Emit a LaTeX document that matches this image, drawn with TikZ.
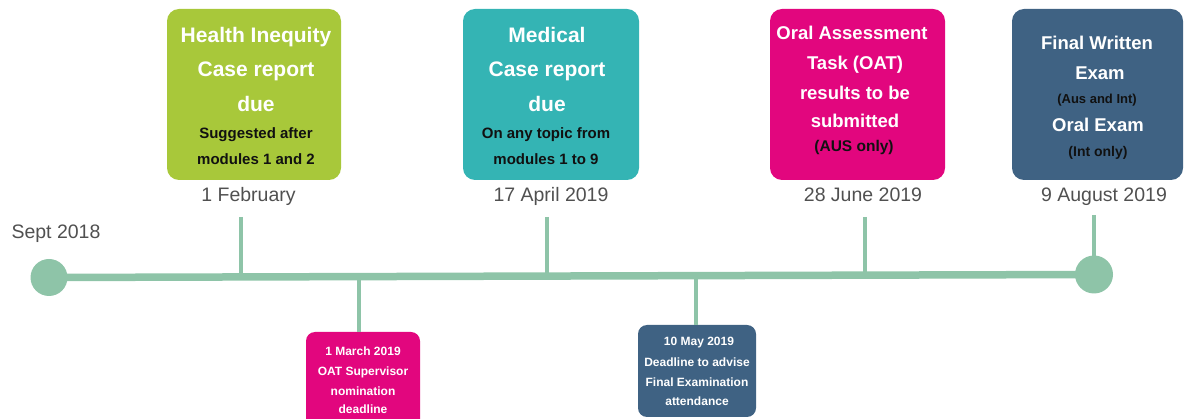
\documentclass[tikz,border=0pt]{standalone}
\usepackage{fontspec}
\setmainfont{Liberation Sans}
\usetikzlibrary{calc}
\definecolor{lineg}{HTML}{8EC4A8}
\definecolor{boxgreen}{HTML}{A8C83A}
\definecolor{boxteal}{HTML}{34B4B4}
\definecolor{boxmag}{HTML}{E2067E}
\definecolor{boxblue}{HTML}{3F6283}
\definecolor{dategray}{HTML}{505050}
\definecolor{inkblack}{HTML}{111111}
\tikzset{
  card/.style={rectangle, rounded corners=12pt, inner sep=0pt, draw=none},
  smallcard/.style={rectangle, rounded corners=9pt, inner sep=0pt, draw=none},
  wt/.style={anchor=base, inner sep=0pt, text=white, font=\bfseries\fontsize{#1}{#1}\selectfont},
  bk/.style={anchor=base, inner sep=0pt, text=inkblack, font=\bfseries\fontsize{#1}{#1}\selectfont},
  dt/.style={anchor=base, inner sep=0pt, text=dategray, font=\fontsize{19.5}{19.5}\selectfont},
  tick/.style={draw=lineg, line width=3.5pt},
  mainline/.style={draw=lineg, line width=7.5pt},
  dot/.style={circle, fill=lineg, inner sep=0pt, minimum size=#1}
}
\begin{document}
\begin{tikzpicture}[x=1pt,y=-1pt]
\useasboundingbox (0,0) rectangle (1184,419);
\clip (0,0) rectangle (1184,419);

% main line and end dots
\coordinate (L) at (49,277.5);
\coordinate (R) at (1094,274.5);
\draw[mainline] (L) -- (R);
\node[dot=37pt] (start) at (L) {};
\node[dot=38pt] (end) at (R) {};

% points on the line
\coordinate (p1) at (241,277);
\coordinate (p2) at (547,276.2);
\coordinate (p3) at (865,275.3);
\coordinate (q1) at (359,276.6);
\coordinate (q2) at (696,275.7);
% tick ends
\coordinate (u1) at (241,217);
\coordinate (u2) at (547,217);
\coordinate (u3) at (865,217);
\coordinate (u4) at (1094,215);

% cards
\node[card, fill=boxgreen, minimum width=174pt, minimum height=171pt] (c1) at (254,94.5) {};
\node[card, fill=boxteal, minimum width=176pt, minimum height=171pt] (c2) at (551,94.5) {};
\node[card, fill=boxmag, minimum width=175pt, minimum height=171pt] (c3) at (857.5,94.5) {};
\node[card, fill=boxblue, minimum width=171pt, minimum height=171pt] (c4) at (1097.5,94.5) {};
\node[smallcard, fill=boxmag, minimum width=114pt, minimum height=110pt] (d1) at (363,387) {};
\node[smallcard, fill=boxblue, minimum width=118pt, minimum height=92pt] (d2) at (697,371) {};

% ticks
\draw[tick] (u1) -- (p1);
\draw[tick] (u2) -- (p2);
\draw[tick] (u3) -- (p3);
\draw[tick] (u4) -- (end.center);
\draw[tick] (q1) -- (d1.north -| q1);
\draw[tick] (q2) -- (d2.north -| q2);

% card 1
\node[wt=21] (c1a) at (256,43) {Health Inequity};
\node[wt=21] (c1b) at (256,77) {Case report};
\node[wt=21] (c1c) at (256,112) {due};
\node[bk=15] (c1d) at (256,139) {Suggested after};
\node[bk=15] (c1e) at (256,165) {modules 1 and 2};
% card 2
\node[wt=21] (c2a) at (547,43) {Medical};
\node[wt=21] (c2b) at (547,77) {Case report};
\node[wt=21] (c2c) at (547,112) {due};
\node[bk=15] (c2d) at (546,139) {On any topic from};
\node[bk=15] (c2e) at (546,165) {modules 1 to 9};
% card 3
\node[wt=18.5] (c3a) at (852,40) {Oral Assessment};
\node[wt=18.5] (c3b) at (855,70) {Task (OAT)};
\node[wt=18.5] (c3c) at (855,100) {results to be};
\node[wt=18.5] (c3d) at (855,128) {submitted};
\node[bk=15.5] (c3e) at (854,152) {(AUS only)};
% card 4
\node[wt=18.5] (c4a) at (1097,50) {Final Written};
\node[wt=18.5] (c4b) at (1100,80) {Exam};
\node[bk=13] (c4c) at (1097,104) {(Aus and Int)};
\node[wt=18.5] (c4d) at (1098,132) {Oral Exam};
\node[bk=14] (c4e) at (1098,157) {(Int only)};
% lower card 1
\node[wt=12] (d1a) at (363,356) {1 March 2019};
\node[wt=12] (d1b) at (363,376) {OAT Supervisor};
\node[wt=12] (d1c) at (363,396) {nomination};
\node[wt=12] (d1d) at (363,414) {deadline};
% lower card 2
\node[wt=12] (d2a) at (699,346) {10 May 2019};
\node[wt=12] (d2b) at (697,367) {Deadline to advise};
\node[wt=12] (d2c) at (697,387) {Final Examination};
\node[wt=12] (d2d) at (697,406) {attendance};

% dates
\node[dt] (l0) at (56,239) {Sept 2018};
\node[dt] (l1) at (248.5,202) {1 February};
\node[dt] (l2) at (551,202) {17 April 2019};
\node[dt] (l3) at (863,202) {28 June 2019};
\node[dt] (l4) at (1104,202) {9 August 2019};
\end{tikzpicture}
\end{document}
